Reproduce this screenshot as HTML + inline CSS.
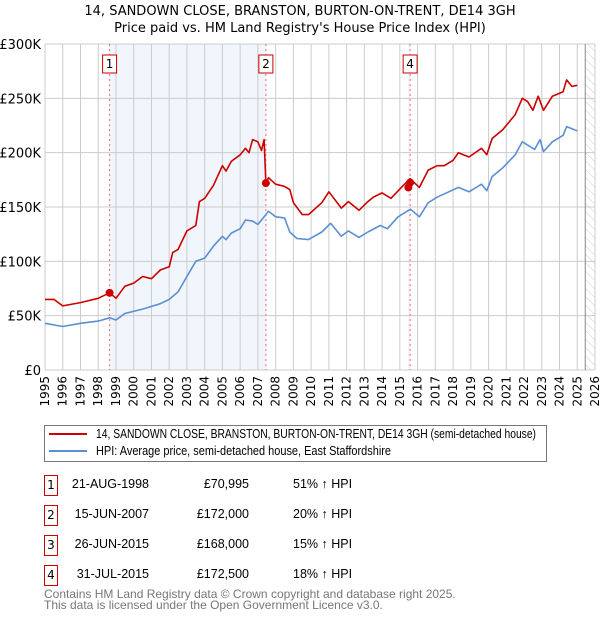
<!DOCTYPE html>
<html><head><meta charset="utf-8"><style>
body{margin:0;background:#fff;font-family:"DejaVu Sans","Liberation Sans",sans-serif;}
#wrap{position:relative;width:600px;height:620px;overflow:hidden;}
.t{position:absolute;font-size:12.5px;color:#000;white-space:nowrap;font-family:"Liberation Sans",sans-serif;}
.box{position:absolute;border:1px solid #c00;width:12px;height:19px;font-size:12px;text-align:center;line-height:19px;}
</style></head><body><div id="wrap">
<div class="t" style="left:0;width:600px;text-align:center;top:3px;font-size:13px;line-height:17px;font-family:'DejaVu Sans',sans-serif">14, SANDOWN CLOSE, BRANSTON, BURTON-ON-TRENT, DE14 3GH<br>Price paid vs. HM Land Registry's House Price Index (HPI)</div>
<svg id="chart" width="600" height="420" style="position:absolute;left:0;top:0"></svg>
<div style="position:absolute;left:44px;top:425px;width:501px;height:35px;border:1px solid #777"></div>
<div style="position:absolute;left:49px;top:433px;width:38px;height:2px;background:#c00"></div>
<div class="t" id="leg1" style="left:96px;top:427px;transform-origin:0 0">14, SANDOWN CLOSE, BRANSTON, BURTON-ON-TRENT, DE14 3GH (semi-detached house)</div>
<div style="position:absolute;left:49px;top:450px;width:38px;height:2px;background:#5b8fd4"></div>
<div class="t" id="leg2" style="left:96px;top:444px;transform-origin:0 0">HPI: Average price, semi-detached house, East Staffordshire</div>
<div id="rows"></div>
<div class="t" style="left:44px;top:589px;color:#777;line-height:11px;font-size:12px">Contains HM Land Registry data © Crown copyright and database right 2025.<br>This data is licensed under the Open Government Licence v3.0.</div>
</div>
<script>
const redYears=[1995,1995.5,1996,1997,1998,1998.64,1999,1999.5,2000,2000.5,2001,2001.5,2002,2002.2,2002.5,2003,2003.5,2003.7,2004,2004.5,2005,2005.2,2005.5,2006,2006.3,2006.5,2006.7,2007,2007.2,2007.35,2007.45,2007.6,2008,2008.5,2008.8,2009,2009.5,2009.85,2010.6,2011,2011.7,2012.1,2012.7,2013.2,2013.5,2014,2014.5,2015.2,2015.58,2016.1,2016.6,2017.1,2017.5,2018,2018.3,2018.9,2019.6,2019.9,2020.2,2020.8,2021.5,2021.9,2022.2,2022.5,2022.8,2023.1,2023.6,2024.2,2024.4,2024.7,2025.0];
const redVals=[65,65,59,62,66,71,66,77,80,86,84,92,95,108,111,128,133,155,158,170,188,183,192,198,204,200,212,210,202,212,172,177,171,169,166,154,143,143,154,164,149,155,147,155,159,163,158,170,176,168,184,188,188,193,200,196,204,198,213,221,235,250,247,239,252,239,252,256,267,261,262];
const blueYears=[1995,1996,1997,1998,1998.64,1999,1999.5,2000.5,2001.5,2002,2002.5,2003,2003.5,2004,2004.5,2005,2005.2,2005.5,2006,2006.3,2006.7,2007,2007.45,2007.6,2008,2008.5,2008.8,2009.2,2009.85,2010.6,2011.1,2011.7,2012.1,2012.7,2013.2,2013.9,2014.3,2014.9,2015.6,2016.1,2016.6,2017.1,2017.9,2018.3,2018.9,2019.6,2019.9,2020.2,2020.8,2021.5,2021.9,2022.6,2022.9,2023.1,2023.6,2024.2,2024.4,2025.0];
const blueVals=[43,40,43,45,48,46,52,56,61,65,72,86,100,103,114,123,120,126,130,138,137,134,143,146,141,140,127,121,120,127,135,123,128,122,127,133,130,141,148,141,154,159,165,168,164,171,165,178,186,198,210,203,212,201,210,216,224,220];
const yTicks=[0,50,100,150,200,250,300];
const yLabels=["£0","£50K","£100K","£150K","£200K","£250K","£300K"];
const saleYears=[1998.64,2007.45,2015.48,2015.58];
const saleVals=[71,172,168,172.5];
const saleLabels=["1","2","3","4"];
const saleDates=["21-AUG-1998","15-JUN-2007","26-JUN-2015","31-JUL-2015"];
const salePrices=["£70,995","£172,000","£168,000","£172,500"];
const saleHpi=["51% ↑ HPI","20% ↑ HPI","15% ↑ HPI","18% ↑ HPI"];
const NS="http://www.w3.org/2000/svg";
const svg=document.getElementById('chart');
const X0=45,X1=595,Y0=370,Y1=44;
const xs=y=>X0+(y-1995)*(X1-X0)/31;
const ys=v=>Y0-v*(Y0-Y1)/300;
function mk(tag,at){const e=document.createElementNS(NS,tag);for(const k in at)e.setAttribute(k,at[k]);svg.appendChild(e);return e;}
let e;
e=mk('rect',{x:xs(saleYears[0]),y:Y1,width:xs(saleYears[1])-xs(saleYears[0]),height:Y0-Y1,fill:'#eef2fb',opacity:0.8});


e=mk('rect',{x:xs(saleYears[2]),y:Y1,width:xs(saleYears[3])-xs(saleYears[2]),height:Y0-Y1,fill:'#eef2fb'});


const defs=mk('defs',{});
defs.innerHTML='<pattern id="h" width="6" height="6" patternUnits="userSpaceOnUse" patternTransform="rotate(-45)"><line x1="0" y1="0" x2="0" y2="6" stroke="#ccc" stroke-width="1"/></pattern>';
const endX=xs(2025.45);
e=mk('rect',{x:endX,y:Y1,width:X1-endX,height:Y0-Y1,fill:'url(#h)'});


for(let yr=1995;yr<=2026;yr++){
 e=mk('line',{x1:xs(yr),x2:xs(yr),y1:Y1,y2:Y0,stroke:'#ccc','stroke-width':1});
 
 
 e=mk('text',{x:0,y:0,transform:`translate(${xs(yr)+4},${Y0+6}) rotate(-90)`,'text-anchor':'end','font-size':'12','font-family':'DejaVu Sans, Liberation Sans, sans-serif'});
 e.textContent=yr;
 
 
}
yTicks.forEach((v,i)=>{
 e=mk('line',{x1:X0,x2:X1,y1:ys(v),y2:ys(v),stroke:'#ccc','stroke-width':1});
 
 
 e=mk('text',{x:X0-4,y:ys(v)+5,'text-anchor':'end','font-size':'13','font-family':'DejaVu Sans, Liberation Sans, sans-serif'});
 e.textContent=yLabels[i];
 
 
});
e=mk('line',{x1:endX,x2:endX,y1:Y1,y2:Y0,stroke:'#888','stroke-width':1});


saleYears.forEach((yr,i)=>{
 if(i==2)return;
 e=mk('line',{x1:xs(yr),x2:xs(yr),y1:Y1,y2:Y0,stroke:'#f66','stroke-width':1,'stroke-dasharray':'2,3'});
 
 
});
function path(xa,va,col,name){
 const d=xa.map((x,i)=>(i?'L':'M')+xs(x).toFixed(1)+','+ys(va[i]).toFixed(1)).join('');
 const p=mk('path',{d:d,fill:'none',stroke:col,'stroke-width':1.6,'stroke-linejoin':'round'});
 
 
}
path(blueYears,blueVals,'#5b8fd4','hpi-line');
path(redYears,redVals,'#cc0000','price-paid-line');
saleYears.forEach((yr,i)=>{
 e=mk('circle',{cx:xs(yr),cy:ys(saleVals[i]),r:4,fill:'#cc0000'});
 
 
});
[0,1,3].forEach(i=>{
 const cx=xs(saleYears[i]);
 e=mk('rect',{x:cx-7,y:55,width:14,height:18,fill:'#fff',stroke:'#c00','stroke-width':1});
 
 
 e=mk('text',{x:cx,y:68,'text-anchor':'middle','font-size':'12','font-family':'DejaVu Sans, Liberation Sans, sans-serif'});
 e.textContent=saleLabels[i];
 
 
});
const rows=document.getElementById('rows');
saleLabels.forEach((l,i)=>{
 const top=475+i*30;
 const r=document.createElement('div');
 
 
 r.innerHTML=`<div class="box" style="left:44px;top:${top}px">${l}</div>
 <div class="t" style="left:40px;width:109px;text-align:right;top:${top+2}px">${saleDates[i]}</div>
 <div class="t" style="left:150px;width:99px;text-align:right;top:${top+2}px">${salePrices[i]}</div>
 <div class="t" style="left:293px;top:${top+2}px">${saleHpi[i]}</div>`;
 rows.appendChild(r);
});
[['leg1',440],['leg2',295]].forEach(([id,w])=>{
 const el=document.getElementById(id);
 const cw=el.getBoundingClientRect().width;
 if(cw>0)el.style.transform='scaleX('+(w/cw)+')';
});
</script></body></html>
